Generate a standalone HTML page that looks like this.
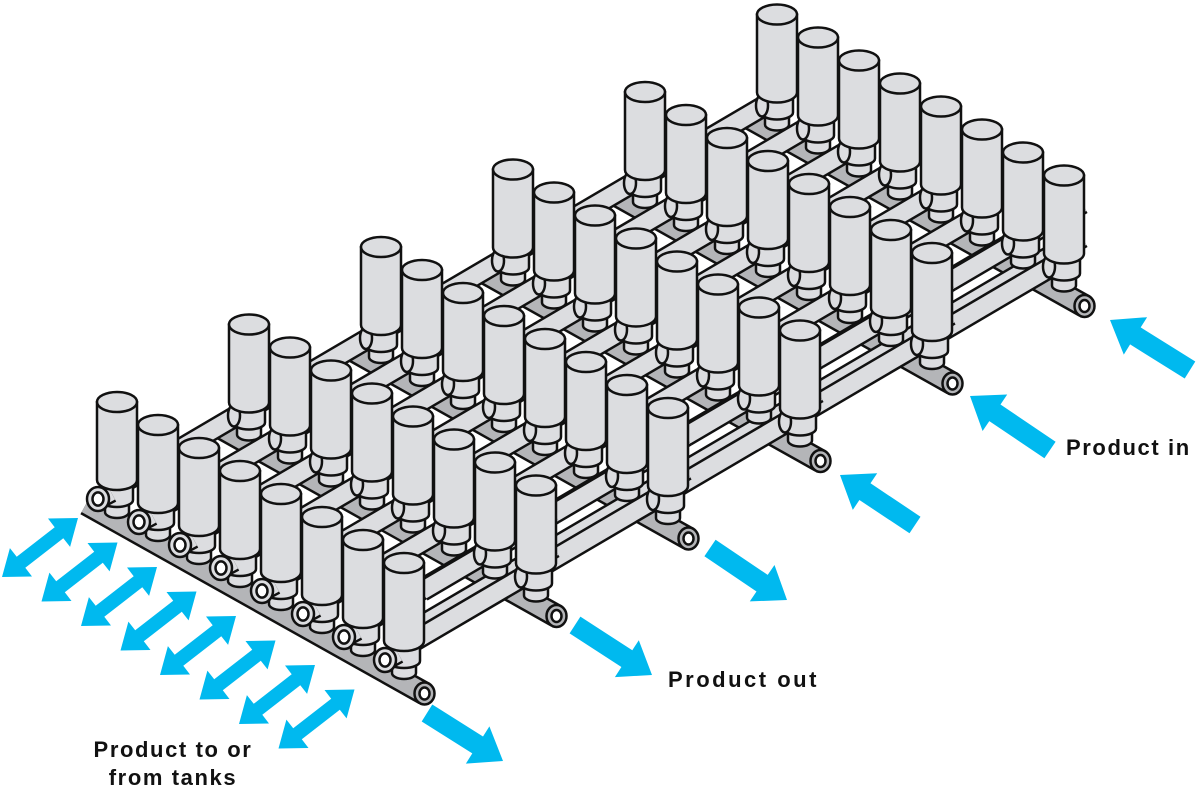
<!DOCTYPE html>
<html><head><meta charset="utf-8">
<style>
html,body{margin:0;padding:0;background:#fff;width:1200px;height:802px;overflow:hidden}
svg{position:absolute;left:0;top:0}
.lbl{position:absolute;font-family:"Liberation Sans",sans-serif;font-weight:bold;font-size:22px;letter-spacing:1.6px;color:#111;line-height:28px;white-space:nowrap}
</style></head><body>
<svg id="s" width="1200" height="802" viewBox="0 0 1200 802" xmlns="http://www.w3.org/2000/svg"></svg>
<div class="lbl" style="left:1066px;top:434px">Product in</div>
<div class="lbl" style="left:668px;top:666px;letter-spacing:2.5px">Product out</div>
<div class="lbl" style="left:88px;top:736px;text-align:center;width:170px">Product to or<br>from tanks</div>
<script>
var s=document.getElementById('s'),h='';
var K='#111',BODY='#dcdde0',GR='#b4b5b8',BL='#00b9ef';
function T(u,v){return [117+41*u+132*v,402+23*u-77.5*v];}
function pipe(a,b,w,f){h+='<line x1="'+a[0]+'" y1="'+a[1]+'" x2="'+b[0]+'" y2="'+b[1]+'" stroke="'+K+'" stroke-width="'+w+'"/>';
h+='<line x1="'+a[0]+'" y1="'+a[1]+'" x2="'+b[0]+'" y2="'+b[1]+'" stroke="'+f+'" stroke-width="'+(w-5)+'"/>';}
function cyl(cx,y0,y1,rx,ry,top){h+='<path d="M'+(cx-rx)+','+y0+' L'+(cx-rx)+','+y1+' A'+rx+' '+ry+' 0 0 0 '+(cx+rx)+','+y1+' L'+(cx+rx)+','+y0+' Z" fill="'+BODY+'" stroke="'+K+'" stroke-width="2.5"/>';
if(top)h+='<ellipse cx="'+cx+'" cy="'+y0+'" rx="'+rx+'" ry="'+ry+'" fill="'+BODY+'" stroke="'+K+'" stroke-width="2.5"/>';}
function ring(x,y,r,f){h+='<ellipse cx="'+x+'" cy="'+y+'" rx="'+r+'" ry="'+(r+1)+'" fill="'+f+'" stroke="'+K+'" stroke-width="2.5"/><ellipse cx="'+x+'" cy="'+y+'" rx="'+(r*0.5)+'" ry="'+(r*0.6)+'" fill="#fff" stroke="'+K+'" stroke-width="2.5"/>';}
function V(u,v){var p=T(u,v),x=p[0],y=p[1];
 cyl(x,y+96,y+110,12,6,false);
 cyl(x,y+76,y+98,16,7,false);
 if(v==0){pipe([x-19,y+97],[x-6,y+90],22,BODY);ring(x-19,y+97,11,BODY);}
 else h+='<ellipse cx="'+(x-15)+'" cy="'+(y+91)+'" rx="6" ry="11" fill="'+BODY+'" stroke="'+K+'" stroke-width="2.5"/>';
 cyl(x,y,y+78,20,10,true);
}
var dv=[132,-77.5],v,u;
for(v=5;v>=0;v--){
 var a=T(-0.75,v),b=T(7.5,v);
 pipe([a[0],a[1]+119],[b[0],b[1]+119],24,GR);
 ring(b[0],b[1]+119,10,GR);
}
for(v=4;v>=0;v--){for(u=0;u<8;u++){var p=T(u,v);
  if(u==7){
   pipe([p[0]+18,p[1]+28],[p[0]+18+dv[0],p[1]+28+dv[1]],22,BODY);
   pipe([p[0]+18,p[1]+62],[p[0]+18+dv[0],p[1]+62+dv[1]],22,BODY);
  }
  pipe([p[0]-12,p[1]+91],[p[0]-12+dv[0],p[1]+91+dv[1]],22,BODY);
}}
for(v=5;v>=0;v--){for(u=0;u<8;u++)V(u,v);}
function arr(ax,ay,bx,by,sw,hw,hl,dbl){var dx=bx-ax,dy=by-ay,L=Math.hypot(dx,dy);dx/=L;dy/=L;var nx=-dy,ny=dx;
 function P(t,o){return (ax+dx*t+nx*o).toFixed(1)+','+(ay+dy*t+ny*o).toFixed(1);}
 var pts=[];
 if(dbl){pts=[P(0,0),P(hl,hw),P(hl,sw),P(L-hl,sw),P(L-hl,hw),P(L,0),P(L-hl,-hw),P(L-hl,-sw),P(hl,-sw),P(hl,-hw)];}
 else{pts=[P(0,sw),P(L-hl,sw),P(L-hl,hw),P(L,0),P(L-hl,-hw),P(L-hl,-sw),P(0,-sw)];}
 h+='<polygon points="'+pts.join(' ')+'" fill="'+BL+'"/>';}
for(var i=0;i<8;i++){var ox=39.5*i,oy=24.5*i;arr(2+ox,577+oy,78+ox,518+oy,7,18,24,true);}
arr(427,713,503,761,10,22,30,false);
arr(575,625,652,675,10,22,30,false);
arr(710,548,787,600,10,22,30,false);
arr(1190,370,1110,320,10,22,30,false);
arr(1050,450,970,396,10,22,30,false);
arr(915,525,840,475,10,22,30,false);
s.innerHTML=h;
</script>
</body></html>
